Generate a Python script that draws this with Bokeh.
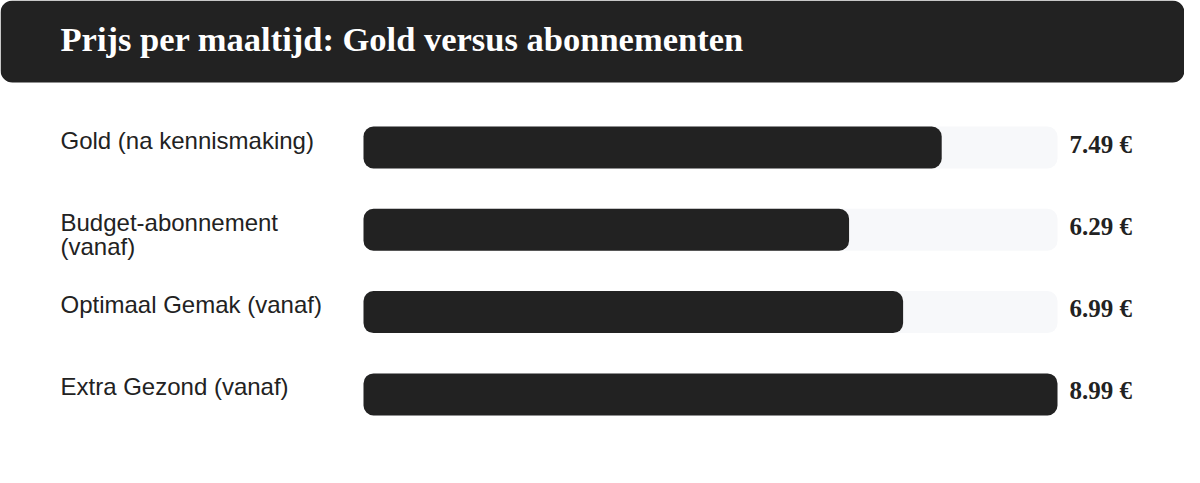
from bokeh.plotting import figure
from bokeh.models import Range1d, ColumnDataSource
from bokeh.core.properties import value
from bokeh.embed import file_html
from bokeh.resources import INLINE

# ---- data ----
title_text = "Prijs per maaltijd: Gold versus abonnementen"
categories = ["Gold (na kennismaking)", "Budget-abonnement\n(vanaf)", "Optimaal Gemak (vanaf)", "Extra Gezond (vanaf)"]
prices = [7.49, 6.29, 6.99, 8.99]
price_labels = [f"{v:.2f} €" for v in prices]

# ---- layout (pixels within the figure) ----
W, H = 1184, 467
OFF = 0
TRACK_L, TRACK_R = 363, 1057
ROW0, ROW_STEP = 147, 82.3
BAR_H = 42
max_price = max(prices)
sx = (TRACK_R - TRACK_L) / max_price
x0 = -(TRACK_L - OFF) / sx
x1 = x0 + W / sx
y_top = (OFF - ROW0) / ROW_STEP
y_bot = y_top + H / ROW_STEP

def px(page_x):
    return (page_x - TRACK_L) / sx

def py(page_y):
    return (page_y - ROW0) / ROW_STEP

p = figure(width=W, height=H, x_range=Range1d(x0, x1), y_range=Range1d(y_bot, y_top),
           output_backend="svg", toolbar_location=None, min_border=0,
           x_axis_location=None, y_axis_location=None, background_fill_color="white",
           border_fill_color="white")
p.outline_line_color = None
p.xgrid.visible = False
p.ygrid.visible = False

DARK = "#222222"

# header
p.quad(left=[x0], right=[x1], top=[y_top], bottom=[py(82)], fill_color=DARK, line_color=None,
       border_radius=12)
p.text(x=[px(60)], y=[py(19)], text=[title_text], text_font=value("Liberation Serif"),
       text_font_style="bold", text_font_size="34.5px", text_color="white",
       text_baseline="top", text_align="left")

idx = list(range(len(categories)))
src = ColumnDataSource(dict(y=idx, price=prices, full=[max_price] * len(prices),
                            cat=categories, lab=price_labels,
                            ytop=[i - BAR_H / ROW_STEP / 2 for i in idx]))
bh = BAR_H / ROW_STEP
p.hbar(y="y", left=0, right="full", height=bh, source=src, fill_color="#f7f8fa",
       line_color=None, border_radius=10)
p.hbar(y="y", left=0, right="price", height=bh, source=src, fill_color=DARK,
       line_color=None, border_radius=10)

p.text(x=px(60), y="ytop", text="cat", source=src, text_font=value("Liberation Sans"),
       text_font_size="24px", text_color=DARK, text_baseline="top", text_align="left",
       text_line_height=0.9, y_offset=0)
p.text(x=px(1069), y="ytop", text="lab", source=src, text_font=value("Liberation Serif"),
       text_font_style="bold", text_font_size="25px", text_color=DARK, text_baseline="top",
       text_align="left", y_offset=4)

open("out.html", "w").write(file_html(p, INLINE))
